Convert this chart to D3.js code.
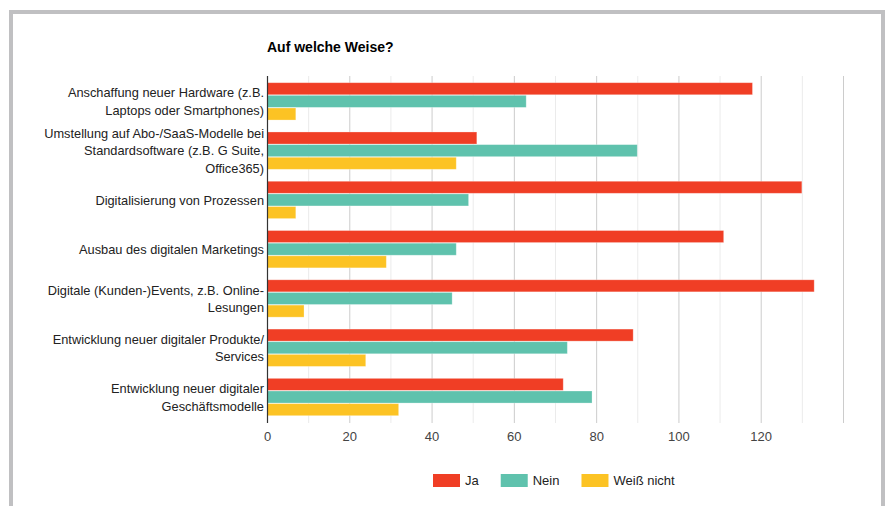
<!DOCTYPE html>
<html>
<head>
<meta charset="utf-8">
<script src="https://cdn.jsdelivr.net/npm/d3@7"></script>
<style>
  html, body { margin: 0; padding: 0; background: #fff; }
  svg { display: block; font-family: Arial, "Liberation Sans", sans-serif; }
</style>
</head>
<body>
<svg id="chart" width="885" height="506"></svg>
<script>
// Survey answers: "Auf welche Weise?"
const categories = [
  "Anschaffung neuer Hardware (z.B.\nLaptops oder Smartphones)",
  "Umstellung auf Abo-/SaaS-Modelle bei\nStandardsoftware (z.B. G Suite,\nOffice365)",
  "Digitalisierung von Prozessen",
  "Ausbau des digitalen Marketings",
  "Digitale (Kunden-)Events, z.B. Online-\nLesungen",
  "Entwicklung neuer digitaler Produkte/\nServices",
  "Entwicklung neuer digitaler\nGeschäftsmodelle"
];
const seriesNames = ["Ja", "Nein", "Weiß nicht"];
const jaValues = [118, 51, 130, 111, 133, 89, 72];
const neinValues = [63, 90, 49, 46, 45, 73, 79];
const weissNichtValues = [7, 46, 7, 29, 9, 24, 32];
const seriesColors = ["#f03e25", "#5fc2ad", "#fcc324"];
const tickValues = [0, 20, 40, 60, 80, 100, 120];
const titleText = "Auf welche Weise?";

const seriesValues = [jaValues, neinValues, weissNichtValues];
const rows = categories.map((c, i) => ({
  category: c,
  values: seriesNames.map((s, k) => ({ series: s, value: seriesValues[k][i], color: seriesColors[k] }))
}));

const svg = d3.select("#chart");

// outer frame
svg.append("rect")
  .attr("x", 11).attr("y", 12).attr("width", 872).attr("height", 520)
  .attr("fill", "#fff").attr("stroke", "#c0c0c2").attr("stroke-width", 4);

const plot = { left: 267, right: 843, top: 76, bottom: 423 };

const x = d3.scaleLinear().domain([0, 140]).range([plot.left, plot.right]);
const y = d3.scaleBand().domain(categories).range([plot.top, plot.bottom])
  .paddingInner(0.23).paddingOuter(0.136);
const ySub = d3.scaleBand().domain(seriesNames).range([0, y.bandwidth()]);

// title
svg.append("text")
  .attr("x", plot.left).attr("y", 52)
  .attr("font-size", 14).attr("font-weight", "bold").attr("fill", "#000")
  .text(titleText);

// gridlines: minor every 10, major every 20
const gridVals = d3.range(10, 141, 10);
svg.append("g").selectAll("line").data(gridVals).join("line")
  .attr("x1", d => x(d) + 0.5).attr("x2", d => x(d) + 0.5)
  .attr("y1", plot.top).attr("y2", plot.bottom)
  .attr("stroke", d => d % 20 === 0 ? "#cccccc" : "#ebebeb")
  .attr("stroke-width", 1);

// bars
const groups = svg.append("g").selectAll("g").data(rows).join("g")
  .attr("transform", d => `translate(0,${y(d.category)})`);

groups.selectAll("rect").data(d => d.values).join("rect")
  .attr("x", x(0))
  .attr("y", d => ySub(d.series))
  .attr("width", d => x(d.value) - x(0))
  .attr("height", ySub.bandwidth() - 0.6)
  .attr("fill", d => d.color)
  .attr("stroke", "#fff").attr("stroke-opacity", 0.35).attr("stroke-width", 0.8);

// baseline
svg.append("line")
  .attr("x1", x(0) + 0.5).attr("x2", x(0) + 0.5)
  .attr("y1", plot.top).attr("y2", plot.bottom)
  .attr("stroke", "#333").attr("stroke-width", 1.2);

// x axis labels
const xAxis = d3.axisBottom(x).tickValues(tickValues).tickSize(0).tickPadding(0).tickFormat(d3.format("d"));
const gx = svg.append("g").attr("transform", `translate(0,${plot.bottom})`).call(xAxis);
gx.select(".domain").remove();
gx.selectAll("text")
  .attr("y", 18).attr("dy", 0)
  .attr("font-size", 13).attr("fill", "#444")
  .attr("font-family", "Arial, 'Liberation Sans', sans-serif");

// category labels
const lineH = 17.5;
const labels = svg.append("g").selectAll("text").data(rows).join("text")
  .attr("text-anchor", "end")
  .attr("font-size", 12.8).attr("fill", "#222");
labels.each(function (d) {
  const lines = d.category.split("\n");
  const cy = y(d.category) + y.bandwidth() / 2;
  const y0 = cy - (lines.length - 1) * lineH / 2 + 4.5;
  d3.select(this).selectAll("tspan").data(lines).join("tspan")
    .attr("x", plot.left - 3)
    .attr("y", (l, i) => y0 + i * lineH)
    .text(l => l);
});

// legend
const legend = svg.append("g").attr("transform", "translate(433,474)");
let lx = 0;
seriesNames.forEach((s, k) => {
  const item = legend.append("g").attr("transform", `translate(${lx},0)`);
  item.append("rect").attr("width", 27).attr("height", 13).attr("fill", seriesColors[k]);
  const t = item.append("text").attr("x", 32).attr("y", 11)
    .attr("font-size", 13).attr("fill", "#222").text(s);
  lx += 32 + t.node().getComputedTextLength() + 22;
});
</script>
</body>
</html>
